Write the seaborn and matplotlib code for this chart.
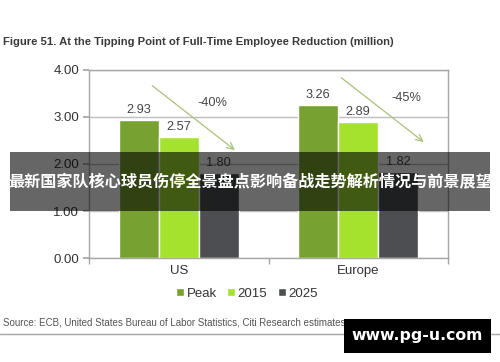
import pandas as pd
import matplotlib
matplotlib.use("Agg")
import matplotlib.pyplot as plt
import seaborn as sns

regions = ["US", "Europe"]
series = ["Peak", "2015", "2025"]
peak = [2.93, 3.26]
y2015 = [2.57, 2.89]
y2025 = [1.80, 1.82]
changes = ["-40%", "-45%"]
yticks = [0.0, 1.0, 2.0, 3.0, 4.0]

colors = ["#78A22F", "#A4E22E", "#4C4E52"]

df = pd.DataFrame({
    "Region": regions * 3,
    "Series": [s for s in series for _ in regions],
    "Value": peak + y2015 + y2025,
})

sns.set_theme(style="white")
plt.rcParams["font.family"] = ["Liberation Sans", "DejaVu Sans"]

fig = plt.figure(figsize=(5.0, 3.62), dpi=100)
ax = fig.add_axes([0.178, 0.287, 0.718, 0.52])

sns.barplot(data=df, x="Region", y="Value", hue="Series", palette=colors,
            width=0.67, saturation=1, ax=ax, errorbar=None)

for cont in ax.containers:
    ax.bar_label(cont, fmt="%.2f", padding=3, fontsize=9.2, color="#444444")

ax.set_xlim(-0.5, 1.5)
ax.set_ylim(0, 4)
ax.set_yticks(yticks)
ax.set_yticklabels([f"{v:.2f}" for v in yticks], fontsize=9.5, color="#333333")
ax.set_xticklabels(regions, fontsize=9.5, color="#333333")
ax.set_xlabel("")
ax.set_ylabel("")
ax.yaxis.grid(True, color="#BDBDBD", linewidth=1)
ax.set_axisbelow(True)
for side in ["left", "bottom", "top", "right"]:
    ax.spines[side].set_visible(True)
    ax.spines[side].set_color("#A6A6A6")
    ax.spines[side].set_linewidth(1)
ax.tick_params(axis="y", length=4, color="#A6A6A6", left=True, pad=3)
ax.tick_params(axis="x", length=0, pad=5)
ax.set_xticks([-0.5, 0.5, 1.5], minor=True)
ax.tick_params(axis="x", which="minor", length=4, color="#A6A6A6", bottom=True)

# trend arrows
arrows = [((-0.16, 3.70), (0.325, 2.26)), ((0.893, 3.87), (1.377, 2.43))]
label_pos = [(0.185, 3.30), (1.266, 3.40)]
for (start, end), txt, pos in zip(arrows, changes, label_pos):
    ax.annotate("", xy=end, xytext=start,
                arrowprops=dict(arrowstyle="->", color="#A9C27A", lw=0.9))
    ax.text(pos[0], pos[1], txt, fontsize=9.2, color="#444444", ha="center", va="center")

sns.move_legend(ax, "upper center", bbox_to_anchor=(0.44, -0.095), ncol=3,
                frameon=False, title=None, fontsize=9.5, handlelength=0.6,
                handleheight=0.6, handletextpad=0.2, columnspacing=0.8)
for t in ax.get_legend().get_texts():
    t.set_color("#333333")

fig.text(0.006, 0.884, "Figure 51. At the Tipping Point of Full-Time Employee Reduction (million)",
         fontsize=8.1, fontweight="bold", color="#3A3A3A", va="center")
fig.text(0.006, 0.108, "Source: ECB, United States Bureau of Labor Statistics, Citi Research estimates",
         fontsize=7.0, color="#555555", va="center")
fig.add_artist(plt.Line2D([0, 1], [0.077, 0.077], color="#A6A6A6", lw=1))

# overlay banner
fig.patches.append(plt.Rectangle((0.02, 0.417), 0.96, 0.163, transform=fig.transFigure,
                                 facecolor="black", edgecolor="none", alpha=0.6, zorder=10))
fig.text(0.5, 0.497, "最新国家队核心球员伤停全景盘点影响备战走势解析情况与前景展望",
         fontsize=11.6, fontweight="bold", color="white", ha="center", va="center",
         family=["Noto Sans CJK SC", "DejaVu Sans"], zorder=11)

# watermark box
fig.patches.append(plt.Rectangle((0.688, 0.025), 0.294, 0.094, transform=fig.transFigure,
                                 facecolor="black", edgecolor="none", zorder=10))
fig.text(0.834, 0.074, "www.pg-u.com", fontsize=11.3, fontweight="bold", color="white",
         ha="center", va="center", family=["DejaVu Sans"], zorder=11)

fig.savefig("out.png", dpi=100)
